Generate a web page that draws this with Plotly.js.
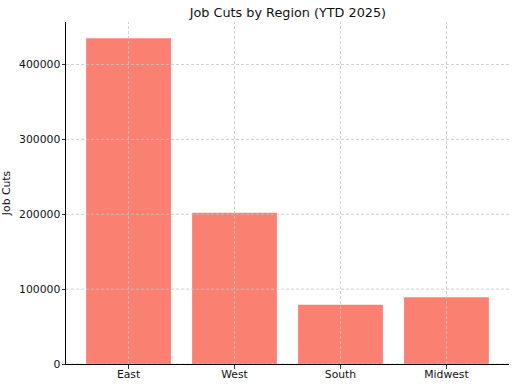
<!DOCTYPE html>
<html>
<head>
<meta charset="utf-8">
<script src="https://cdn.plot.ly/plotly-3.0.1.min.js"></script>
<style>html,body{margin:0;padding:0;background:#fff;}#chart{width:516px;height:385px;}</style>
</head>
<body>
<div id="chart"></div>
<script>
const regions = ["East", "West", "South", "Midwest"];
const jobCuts = [435000, 202000, 79000, 89000];
const yTicks = [0, 100000, 200000, 300000, 400000];
const yTickLabels = ["0", "100000", "200000", "300000", "400000"];

const gridStyle = {color: "#c4c4c4", width: 0.8, dash: "3px,2px"};
const shapes = [];
regions.forEach(function (r) {
  shapes.push({type: "line", xref: "x", yref: "paper", x0: r, x1: r, y0: 0, y1: 1, line: gridStyle, layer: "above"});
});
yTicks.forEach(function (v) {
  shapes.push({type: "line", xref: "paper", yref: "y", x0: 0, x1: 1, y0: v, y1: v, line: gridStyle, layer: "above"});
});

const font = {family: "DejaVu Sans, sans-serif", color: "#111"};

Plotly.newPlot("chart", [{
  type: "bar",
  x: regions,
  y: jobCuts,
  width: 0.8,
  marker: {color: "#fa8072", line: {width: 0}},
  hoverinfo: "x+y"
}], {
  width: 516, height: 385,
  margin: {l: 66, r: 7, t: 22, b: 21},
  paper_bgcolor: "#fff", plot_bgcolor: "#fff",
  font: Object.assign({size: 10.8}, font),
  title: {text: "Job Cuts by Region (YTD 2025)", font: Object.assign({size: 12.8}, font), x: 0.558, xanchor: "center", y: 0.968, yanchor: "middle"},
  showlegend: false,
  bargap: 0.2,
  xaxis: {
    range: [-0.59, 3.59], showgrid: false, zeroline: false,
    showline: true, linecolor: "#000", linewidth: 1,
    ticks: "outside", ticklen: 3.5, tickwidth: 0.8, tickcolor: "#000",
    ticklabelstandoff: -3,
    tickfont: Object.assign({size: 10.8}, font)
  },
  yaxis: {
    range: [0, 456750], showgrid: false, zeroline: false,
    showline: true, linecolor: "#000", linewidth: 1,
    ticks: "outside", ticklen: 3.5, tickwidth: 0.8, tickcolor: "#000",
    ticklabelstandoff: -1,
    tickmode: "array", tickvals: yTicks, ticktext: yTickLabels,
    tickfont: Object.assign({size: 10.8}, font),
    title: {text: "Job Cuts", font: Object.assign({size: 10.8}, font), standoff: 7}
  },
  shapes: shapes
}, {displayModeBar: false, staticPlot: true});
</script>
</body>
</html>
